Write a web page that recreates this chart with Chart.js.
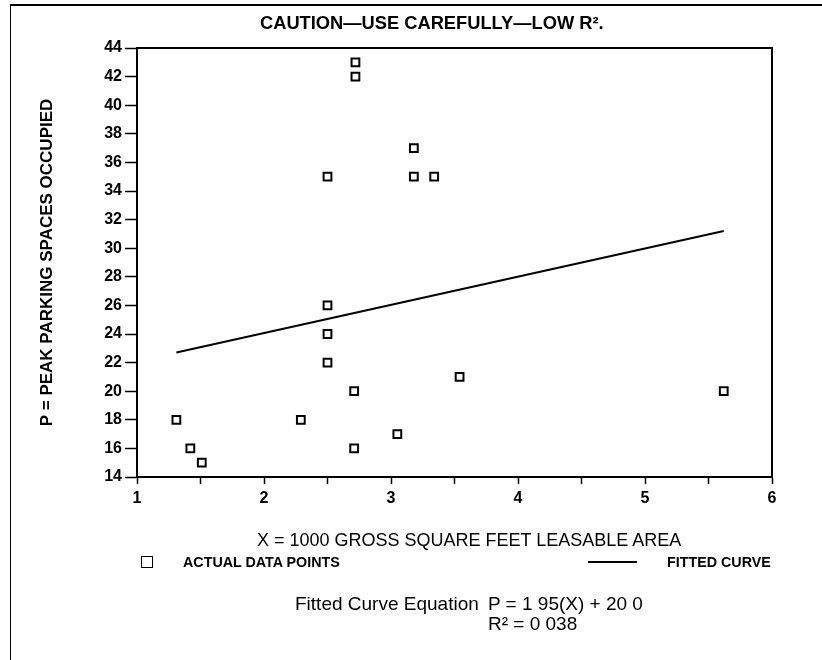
<!DOCTYPE html>
<html>
<head>
<meta charset="utf-8">
<script src="https://cdn.jsdelivr.net/npm/chart.js@4.4.1/dist/chart.umd.min.js"></script>
<style>
  body { margin: 0; background: #fff; }
  .wrap { position: relative; width: 822px; height: 660px; font-family: "Liberation Sans", Arial, sans-serif; color: #000; }
  .outer { position: absolute; left: 10px; top: 4px; right: 0; bottom: 0; border-left: 1.5px solid #000; border-top: 2px solid #000; }
  .txt { position: absolute; white-space: pre; line-height: 1; }
  .title { left: 260px; top: 14px; font-size: 18.3px; font-weight: bold; }
  .xtitle { left: 257px; top: 531px; font-size: 18px; }
  .legend-box { position: absolute; left: 141px; top: 556px; width: 10px; height: 10px; border: 1.5px solid #000; }
  .legend-line { position: absolute; left: 588px; top: 561px; width: 49px; height: 2px; background: #000; }
  .leg { font-size: 14.3px; font-weight: bold; top: 555px; }
  .eq { font-size: 19px; }
</style>
</head>
<body>
<div class="wrap">
  <canvas id="myChart" width="822" height="660"></canvas>
  <div class="outer"></div>
  <div class="txt title">CAUTION—USE CAREFULLY—LOW R².</div>
  <div class="txt xtitle">X = 1000 GROSS SQUARE FEET LEASABLE AREA</div>
  <div class="legend-box"></div>
  <div class="txt leg" style="left:183px">ACTUAL DATA POINTS</div>
  <div class="legend-line"></div>
  <div class="txt leg" style="left:667px">FITTED CURVE</div>
  <div class="txt eq" style="left:295px; top:594px">Fitted Curve Equation</div>
  <div class="txt eq" style="left:488px; top:594px">P = 1 95(X) + 20 0</div>
  <div class="txt eq" style="left:488px; top:614px">R² = 0 038</div>
</div>
<script>
// data
var areaX = [2.72, 2.72, 2.50, 3.18, 3.18, 3.34, 2.50, 2.50, 2.50, 2.71, 2.71, 2.29, 3.05, 1.31, 1.42, 1.51, 3.54, 5.62];
var spaces = [43, 42, 35, 37, 35, 35, 26, 24, 22, 20, 16, 18, 17, 18, 16, 15, 21, 20];
var fitX = [1.31, 5.62];
var fitY = [22.7, 31.2];

var yTitle = "P = PEAK PARKING SPACES OCCUPIED";

var points = areaX.map(function (x, i) { return { x: x, y: spaces[i] }; });
var fitLine = fitX.map(function (x, i) { return { x: x, y: fitY[i] }; });

// box round the plot area
const framePlugin = {
  id: "frame",
  afterDatasetsDraw(chart) {
    const { ctx, chartArea } = chart;
    ctx.save();
    ctx.strokeStyle = "#000";
    ctx.lineWidth = 2;
    ctx.strokeRect(chartArea.left, chartArea.top, chartArea.right - chartArea.left, chartArea.bottom - chartArea.top);
    ctx.restore();
  }
};

var ctx = document.getElementById("myChart").getContext("2d");

new Chart(ctx, {
  type: "scatter",
  data: {
    datasets: [
      {
        label: "Fitted curve",
        data: fitLine,
        showLine: true,
        borderColor: "#000",
        borderWidth: 2,
        pointRadius: 0,
        order: 2
      },
      {
        label: "Actual data points",
        data: points,
        pointStyle: "rect",
        pointRadius: 5.5,
        borderColor: "#000",
        borderWidth: 2,
        backgroundColor: "#fff",
        order: 1
      }
    ]
  },
  options: {
    responsive: false,
    animation: false,
    layout: { padding: { top: 48, right: 50, bottom: 103, left: 0 } },
    plugins: {
      legend: { display: false },
      tooltip: { enabled: false }
    },
    scales: {
      x: {
        type: "linear",
        min: 1,
        max: 6,
        afterFit: function (scale) { scale.height = 80; },
        ticks: {
          stepSize: 0.5,
          autoSkip: false,
          maxRotation: 0,
          padding: 5,
          color: "#000",
          font: { family: "Liberation Sans", size: 16, weight: "bold" },
          callback: function (value) { return value % 1 === 0 ? value : ""; }
        },
        grid: { drawOnChartArea: false, tickLength: 7, tickColor: "#000", tickWidth: 1.5 },
        border: { color: "#000", width: 2 }
      },
      y: {
        min: 14,
        max: 44,
        afterFit: function (scale) { scale.width = 137; },
        ticks: {
          stepSize: 2,
          padding: 3,
          color: "#000",
          font: { family: "Liberation Sans", size: 16, weight: "bold" }
        },
        grid: { drawOnChartArea: false, tickLength: 12, tickColor: "#000", tickWidth: 1.5 },
        border: { color: "#000", width: 2 },
        title: {
          display: true,
          text: yTitle,
          color: "#000",
          font: { family: "Liberation Sans", size: 17, weight: "bold" },
          padding: { top: 37, bottom: 0 }
        }
      }
    }
  },
  plugins: [framePlugin]
});
</script>
</body>
</html>
